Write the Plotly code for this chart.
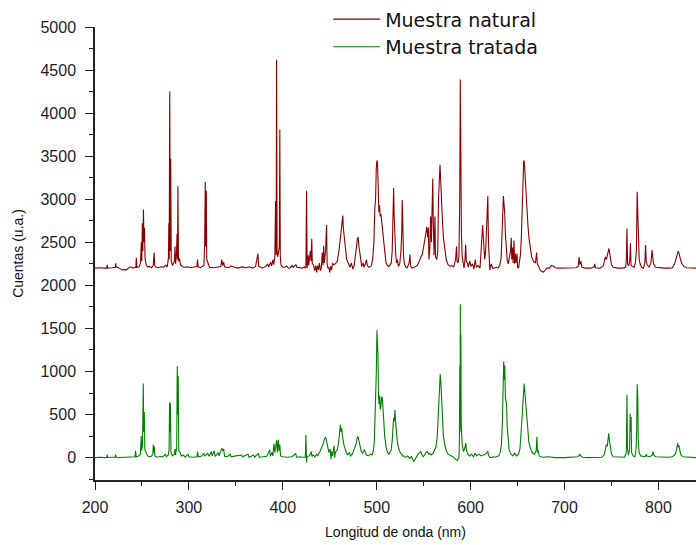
import plotly.graph_objects as go

# Emission spectra: (wavelength in nm, counts in a.u.)
natural = [
    (200, 2200), (205, 2205), (210, 2200), (212.5, 2200), (213, 2240), (213.5, 2200), (218, 2205),
    (221.5, 2210), (222, 2255), (222.6, 2215), (226, 2200), (229, 2180), (231, 2185), (233, 2178),
    (235, 2195), (238, 2215), (240, 2200), (243.5, 2210), (244, 2320), (244.6, 2210), (247, 2215),
    (248.5, 2260), (249.3, 2500), (249.8, 2280), (250.4, 2720), (250.9, 2400), (251.6, 2880),
    (252.1, 2500), (252.7, 2670), (253.3, 2310), (254.5, 2240), (256, 2215), (258, 2220), (260, 2205),
    (262, 2230), (263, 2380), (263.6, 2230), (265, 2210), (268, 2205), (270, 2215), (273, 2210),
    (275.5, 2235), (277, 2215), (278.2, 2320), (278.6, 2720), (279.0, 2300), (279.6, 4250),
    (280.1, 2400), (280.6, 3470), (281.2, 2280), (282.5, 2230), (284.5, 2280), (285.2, 2450),
    (285.8, 2250), (286.7, 2350), (287.4, 2600), (287.9, 2300), (288.3, 3150), (288.9, 2280),
    (290, 2310), (291, 2240), (293, 2220), (295, 2210), (299, 2215), (301, 2205), (304, 2210),
    (308.5, 2220), (309.2, 2300), (309.8, 2215), (312, 2205), (316, 2230), (316.8, 2500),
    (317.4, 3200), (317.9, 2450), (318.5, 3100), (319.0, 2300), (320, 2260), (322, 2210), (326, 2205),
    (330, 2215), (334, 2220), (335, 2300), (336, 2230), (337, 2270), (338, 2215), (342, 2205),
    (345, 2225), (349, 2210), (352, 2200), (357, 2215), (361, 2205), (364, 2215), (368, 2200),
    (371, 2220), (373.5, 2370), (374.3, 2220), (376, 2215), (378, 2200), (382, 2220), (384, 2250),
    (385, 2215), (387, 2270), (388, 2225), (389.5, 2300), (390.3, 2240), (391.5, 2320), (392.3, 2980),
    (392.9, 2350), (393.4, 4620), (393.9, 2400), (394.6, 2330), (396.3, 2450), (396.8, 3810),
    (397.3, 2350), (398, 2240), (400, 2210), (402, 2210), (404, 2225), (406, 2200), (408, 2205),
    (410, 2230), (411, 2210), (414, 2240), (415, 2210), (418, 2205), (421, 2200), (423, 2215),
    (424, 2200), (424.6, 2220), (425.3, 3100), (425.9, 2200), (427, 2350), (427.6, 2230), (428.5, 2300),
    (429.3, 2400), (430.1, 2280), (430.8, 2540), (431.4, 2250), (432.5, 2240), (434, 2170), (435, 2230),
    (436, 2150), (437, 2230), (438, 2180), (439, 2260), (440, 2170), (441, 2200), (442, 2380),
    (442.8, 2230), (443.5, 2460), (444.2, 2260), (445.5, 2400), (446.6, 2700), (447.2, 2250),
    (448, 2200), (449, 2210), (450, 2150), (451, 2220), (452, 2180), (453, 2260), (454, 2240),
    (456, 2250), (458, 2280), (460, 2420), (461.5, 2560), (462.5, 2650), (463.3, 2700), (463.9, 2810),
    (464.5, 2660), (465.5, 2560), (466.5, 2420), (468, 2300), (470, 2250), (471.5, 2210), (473, 2260),
    (474.5, 2190), (476, 2230), (477.5, 2330), (478.5, 2450), (479.4, 2540), (480.2, 2560),
    (481, 2460), (481.8, 2380), (482.8, 2300), (484, 2220), (485.5, 2260), (486.5, 2210), (488, 2250),
    (489, 2300), (490, 2230), (491.5, 2210), (493, 2215), (494.5, 2230), (496, 2340), (497, 2500),
    (498, 2900), (498.8, 3000), (499.5, 3350), (500.2, 3450), (500.9, 3420), (501.5, 3050),
    (502.3, 2850), (503, 2930), (503.7, 2800), (504.5, 2830), (505.5, 2700), (507, 2560), (508.5, 2400),
    (510, 2260), (511.5, 2230), (513, 2220), (514.5, 2240), (515.5, 2260), (516.5, 2400), (517.3, 2700),
    (518.0, 3130), (518.6, 2800), (519.4, 2500), (520.3, 2350), (521.2, 2260), (522, 2300), (523, 2220),
    (524.5, 2250), (525.8, 2400), (526.6, 2600), (527.2, 2990), (527.8, 2500), (528.5, 2350),
    (529.5, 2250), (531, 2210), (532.5, 2205), (534.5, 2260), (535.4, 2360), (536, 2230), (537.5, 2200),
    (539, 2205), (541, 2215), (543, 2230), (545, 2270), (547, 2330), (548.5, 2360), (550, 2450),
    (551.5, 2530), (552.5, 2620), (553.3, 2680), (554.2, 2560), (555, 2670), (555.6, 2300),
    (556.5, 2420), (557.4, 2800), (558.2, 2500), (559.1, 3020), (559.7, 3240), (560.3, 2700),
    (561, 2350), (562, 2800), (562.6, 2330), (564, 2300), (565, 2400), (565.8, 3000), (566.6, 3380),
    (567.4, 3400), (568.2, 3200), (569, 2900), (570, 2750), (571, 2560), (572.5, 2420), (574, 2300),
    (576, 2240), (578, 2220), (580, 2230), (582, 2215), (584, 2300), (585, 2450), (585.6, 2280),
    (586.5, 2260), (587.5, 2330), (588.4, 3000), (589.0, 4390), (589.4, 2700), (589.7, 3590),
    (590.2, 2600), (591, 2330), (592, 2250), (593, 2200), (594, 2300), (594.7, 2475), (595.4, 2280),
    (596.5, 2260), (597.5, 2210), (599, 2280), (600.5, 2220), (602, 2250), (603.5, 2190), (605, 2300),
    (606, 2210), (608, 2230), (610, 2200), (611, 2350), (612, 2500), (612.8, 2700), (613.4, 2580),
    (614.2, 2350), (615, 2300), (616, 2400), (617, 2700), (617.7, 2900), (618.3, 3036), (619, 2500),
    (619.6, 2300), (620.5, 2180), (622, 2250), (623.5, 2200), (625, 2200), (627, 2210), (629, 2200),
    (631, 2230), (632.5, 2320), (633.5, 2560), (634.3, 2800), (634.9, 3036), (635.5, 2950),
    (636.3, 2840), (637, 2600), (638, 2400), (639, 2290), (640, 2250), (641, 2300), (642.5, 2400),
    (643.3, 2552), (643.8, 2300), (644.5, 2440), (645.3, 2260), (646.2, 2520), (646.8, 2250),
    (647.5, 2370), (648.3, 2260), (649.4, 2370), (650, 2210), (651, 2200), (652, 2260), (653, 2350),
    (654, 2550), (655, 2900), (655.8, 3300), (656.5, 3450), (657.2, 3430), (658, 3250), (659, 3120),
    (660, 2900), (661, 2700), (662, 2560), (663.5, 2420), (665, 2330), (667, 2280), (669, 2260),
    (670.3, 2380), (671, 2250), (672.5, 2220), (674, 2180), (676, 2160), (677.5, 2155), (679, 2170),
    (681, 2200), (684, 2200), (686, 2230), (688, 2225), (690, 2205), (693, 2200), (700, 2200),
    (706, 2200), (712, 2205), (714.5, 2220), (715.5, 2330), (716.3, 2240), (717.5, 2280), (718.5, 2210),
    (722, 2200), (728, 2200), (731.5, 2215), (732.2, 2250), (733, 2205), (738, 2200), (741.5, 2230),
    (742.5, 2290), (743.5, 2330), (744.5, 2300), (745.5, 2350), (746.5, 2380), (747.3, 2428),
    (748, 2380), (749, 2300), (750, 2240), (752, 2210), (757, 2200), (762, 2200), (765, 2210),
    (765.8, 2300), (766.5, 2660), (767.1, 2250), (768.5, 2230), (769.5, 2300), (770.2, 2490),
    (770.8, 2240), (772, 2220), (774, 2210), (775.5, 2260), (776.5, 2400), (777.4, 3086), (778, 2840),
    (778.6, 2500), (779.5, 2300), (780.5, 2250), (782, 2210), (784, 2200), (785.5, 2260), (786.3, 2468),
    (787, 2280), (788, 2240), (790, 2210), (792, 2260), (793.2, 2410), (793.9, 2330), (794.8, 2250),
    (797, 2210), (800, 2205), (806, 2200), (812, 2200), (815, 2205), (817.5, 2260), (819, 2320),
    (820.3, 2390), (821, 2398), (821.8, 2380), (822.5, 2330), (823.5, 2300), (825, 2250), (827, 2220),
    (830, 2205), (835, 2200), (840, 2200),
]

tratada = [
    (200, 0), (205, 5), (210, 0), (212.5, 2), (213, 35), (213.5, 2), (218, 5), (221.5, 5), (222, 35),
    (222.6, 5), (226, 2), (230, 5), (235, 3), (238, 10), (240, 5), (242.6, 10), (243.2, 80), (243.8, 10),
    (246, 15), (248.3, 40), (249.2, 250), (249.8, 80), (250.6, 150), (251.4, 860), (251.9, 300),
    (252.5, 530), (253.1, 90), (254, 70), (256, 20), (258, 10), (260, 15), (261.6, 40), (262.1, 150),
    (262.7, 60), (263.2, 130), (263.8, 20), (266, 5), (270, 15), (272, 5), (275, 40), (276, 10),
    (278, 30), (278.9, 90), (279.4, 640), (279.9, 300), (280.3, 630), (280.9, 60), (282.5, 20),
    (284.5, 40), (285.2, 100), (285.8, 30), (287.0, 120), (287.6, 1060), (288.1, 500), (288.6, 950),
    (289.2, 80), (290.5, 60), (292, 20), (294, 30), (296, 5), (299, 40), (300, 10), (304, 5),
    (308.6, 10), (309.3, 70), (310, 10), (313, 15), (316, 45), (317, 20), (320, 50), (321.5, 15),
    (324, 70), (324.8, 20), (327, 80), (328, 15), (330, 40), (331, 60), (332, 20), (334.5, 90),
    (335.2, 110), (336, 80), (337, 100), (338, 15), (341, 10), (344, 40), (345, 10), (350, 20),
    (356, 30), (357, 10), (363, 40), (364, 5), (369, 30), (370, 5), (374, 50), (375, 5), (379, 10),
    (383, 15), (386, 90), (386.8, 15), (388.5, 60), (389.4, 20), (390.5, 160), (391.5, 60),
    (393.4, 200), (394.2, 60), (395.2, 210), (396, 80), (396.8, 150), (397.6, 20), (400, 10), (405, 5),
    (410, 10), (413.7, 50), (414.5, 5), (418, 10), (421, 5), (423, 10), (424, 5), (424.6, 262),
    (425.2, -55), (425.8, 10), (428, 20), (429.5, 40), (430.4, 70), (431, 15), (432.5, 30), (434, 10),
    (436, 40), (437, 20), (440, 80), (442, 130), (443.5, 180), (444.5, 220), (445.5, 235), (446.5, 200),
    (447.5, 140), (449, 60), (450.5, 100), (451.3, -20), (452, 70), (453, 20), (454.5, 140), (455.3, 0),
    (456, 60), (458, 90), (459.5, 180), (460.5, 280), (461.3, 382), (462, 300), (462.8, 340),
    (463.5, 250), (465, 150), (467, 80), (469, 30), (471, 60), (472, 20), (474, 40), (476, 90),
    (478, 160), (479, 220), (480, 247), (481, 200), (482, 130), (483.5, 70), (485, 50), (486.5, 90),
    (487.5, 70), (489, 30), (491, 20), (493, 40), (495, 30), (496.5, 80), (497.5, 200), (498.3, 500),
    (499, 652), (499.6, 1000), (500.2, 1478), (500.7, 1300), (501.3, 1204), (501.9, 700), (502.5, 620),
    (503.2, 720), (503.8, 560), (504.5, 600), (505.3, 706), (506, 690), (506.8, 500), (507.5, 450),
    (508.5, 250), (510, 120), (511.5, 60), (513, 40), (514.5, 70), (515.5, 90), (516.5, 200),
    (517.3, 380), (518.0, 460), (518.6, 420), (519.4, 552), (520.0, 430), (521, 280), (522, 180),
    (523.5, 100), (525, 60), (527, 30), (529, 10), (531, 5), (533, 20), (535, -10), (537, 10),
    (539.5, -45), (542, 10), (544, 40), (546, 60), (547, 70), (548, 40), (549.5, 10), (551, 30),
    (552.5, 60), (554, 70), (555.2, 40), (556.5, 50), (558, 30), (560, 50), (561.5, 80), (563, 120),
    (564.5, 250), (565.5, 500), (566.3, 800), (567.0, 950), (567.6, 969), (568.2, 900), (569, 650),
    (570, 400), (571, 250), (572.5, 150), (574, 80), (576, 40), (578, 30), (580, 20), (582, 5),
    (584, -20), (586, -30), (587.5, 0), (588.0, 150), (588.5, 1065), (588.8, 300), (589.0, 1780),
    (589.3, 700), (589.6, 1430), (590.0, 400), (591, 150), (592.5, 70), (594, 120), (594.9, 170),
    (595.7, 80), (597, 40), (599, 20), (601, 40), (603, 10), (605, 50), (606.5, 20), (609, 40),
    (611, 20), (614, 30), (616, 40), (617.5, 60), (618.3, 75), (619, 30), (620.5, 5), (622, 0),
    (624, 10), (626, 5), (628, 10), (630, 20), (631.5, 60), (632.8, 150), (633.8, 400), (634.6, 850),
    (635.2, 1115), (635.8, 900), (636.4, 1070), (637, 700), (637.6, 650), (638.2, 630), (639, 350),
    (640, 180), (641, 90), (643, 40), (645, 20), (647, 50), (649, 20), (651, 40), (652.5, 100),
    (653.5, 250), (654.5, 450), (655.5, 700), (656.4, 840), (657.0, 860), (657.6, 780), (658.4, 660),
    (659.3, 500), (660.5, 300), (662, 180), (664, 100), (666, 50), (668, 40), (669.8, 80), (670.6, 243),
    (671.2, 60), (672, 80), (673, 20), (675, 10), (678, 5), (682, 10), (686, 5), (690, 0), (700, 0),
    (710, 5), (714, 10), (715.6, 25), (716.5, 40), (717.3, 20), (719, 5), (725, 0), (732, 5), (740, 5),
    (742.5, 40), (743.5, 90), (744.5, 150), (745.5, 130), (746.3, 230), (747.1, 281), (747.8, 200),
    (748.6, 120), (750, 40), (752, 10), (758, 5), (764, 5), (765.8, 60), (766.5, 729), (767.0, 120),
    (768, 30), (769.3, 100), (769.9, 513), (770.4, 300), (770.9, 470), (771.4, 60), (773, 20),
    (775, 10), (776.2, 100), (776.8, 300), (777.4, 853), (778.0, 700), (778.5, 200), (779.5, 60),
    (781, 20), (784, 10), (786, 10), (787, 40), (788, 15), (791, 10), (793.5, 30), (794.2, 70),
    (795, 30), (797, 10), (803, 5), (810, 5), (815, 10), (818, 40), (819.5, 100), (820.4, 170),
    (821.2, 120), (822, 140), (822.8, 80), (824, 30), (826, 10), (830, 5), (835, 0), (840, 0),
]

series_names = ["Muestra natural", "Muestra tratada"]
series_colors = ["#8b0000", "#008000"]
y_ticks = [0, 500, 1000, 1500, 2000, 2500, 3000, 3500, 4000, 4500, 5000]
x_ticks = [200, 300, 400, 500, 600, 700, 800]

fig = go.Figure()
for name, color, data in zip(series_names, series_colors, [natural, tratada]):
    wl, cts = zip(*data)
    fig.add_trace(go.Scatter(x=list(wl), y=list(cts), mode="lines", name=name,
                             line=dict(color=color, width=1.1)))

axis_font = dict(family="Liberation Sans, Arial, sans-serif", size=16, color="#1e1e2a")
common = dict(showgrid=False, zeroline=False, showline=True, linecolor="#222", linewidth=1.5,
              ticks="outside", ticklen=8, tickwidth=1.3, tickcolor="#222", tickfont=axis_font)

fig.update_xaxes(range=[200, 840], tickvals=x_ticks, ticklabelstandoff=4,
                 minor=dict(dtick=50, tick0=200, ticks="outside", ticklen=4, tickcolor="#222"),
                 title=dict(text="Longitud de onda (nm)", standoff=12,
                            font=dict(family="Liberation Sans, Arial, sans-serif", size=14, color="#111")),
                 **common)
fig.update_yaxes(range=[-260, 5000], tickvals=y_ticks, ticklabelstandoff=6,
                 minor=dict(dtick=250, tick0=0, ticks="outside", ticklen=4, tickcolor="#222"),
                 title=dict(text="Cuentas (u.a.)", standoff=14,
                            font=dict(family="Liberation Sans, Arial, sans-serif", size=14, color="#111")),
                 **common)

fig.update_layout(
    width=696, height=545,
    margin=dict(l=95, r=0, t=25, b=65),
    plot_bgcolor="white", paper_bgcolor="white",
    showlegend=True,
    legend=dict(x=0.388, y=1.059, xanchor="left", yanchor="top", bgcolor="rgba(0,0,0,0)",
                itemwidth=47,
                font=dict(family="DejaVu Sans, sans-serif", size=19, color="#111"),
                tracegroupgap=0),
)

fig.write_html("out.html")
